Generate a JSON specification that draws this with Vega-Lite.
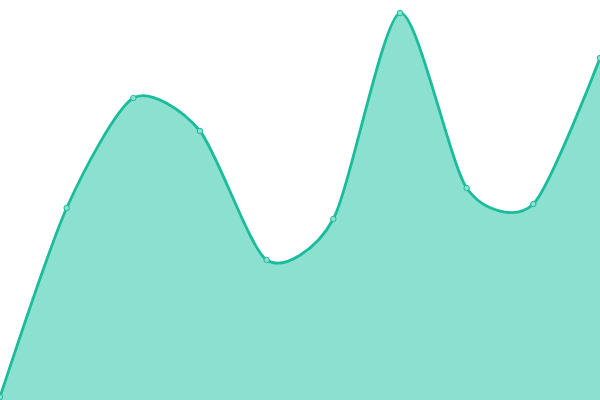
{
  "$schema": "https://vega.github.io/schema/vega-lite/v6.json",
  "autosize": {"type": "none"},
  "width": 600,
  "height": 400,
  "padding": 0,
  "background": "white",
  "config": {"view": {"stroke": null}},
  "data": {"values": [
    {"i": 0, "v": 3},
    {"i": 1, "v": 192},
    {"i": 2, "v": 302},
    {"i": 3, "v": 269},
    {"i": 4, "v": 140},
    {"i": 5, "v": 181},
    {"i": 6, "v": 387},
    {"i": 7, "v": 212},
    {"i": 8, "v": 196},
    {"i": 9, "v": 342}
  ]},
  "encoding": {
    "x": {"field": "i", "type": "quantitative", "scale": {"domain": [0, 9], "nice": false, "zero": false}, "axis": null},
    "y": {"field": "v", "type": "quantitative", "scale": {"domain": [0, 400], "nice": false}, "axis": null}
  },
  "layer": [
    {"mark": {"type": "area", "interpolate": "cardinal", "tension": 0.25, "color": "#8be0d0", "opacity": 1,
      "line": {"color": "#1abc9c", "strokeWidth": 2.8}}},
    {"mark": {"type": "point", "filled": true, "fill": "#8be0d0", "stroke": "#1abc9c", "strokeWidth": 1, "size": 30, "opacity": 1}}
  ]
}
